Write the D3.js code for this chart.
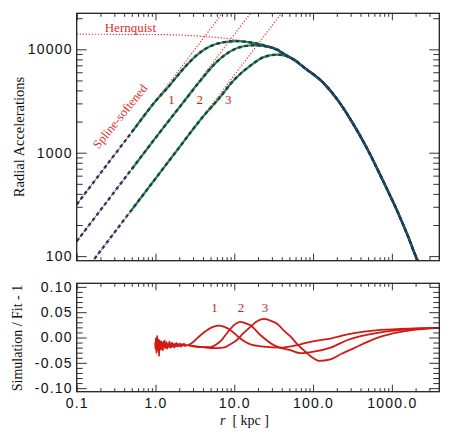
<!DOCTYPE html>
<html>
<head>
<meta charset="utf-8">
<script src="https://cdn.jsdelivr.net/npm/d3@7"></script>
<style>
body { margin: 0; background: #fff; }
svg { display: block; }
</style>
</head>
<body>
<script>
// ---- values: [r (kpc), radial acceleration] ----
var accel1 = [[0.1,316],[0.5,1580],[1,3150],[1.5,4450],[2.26,6500],[3.35,8800],[4.94,10700],[7.3,11700],
  [10.8,12000],[16,11650],[23.6,10950],[34,9950],[45,8800]];
var accel2 = [[0.1,139],[0.5,695],[1,1390],[2.38,3240],[3.69,4950],[6.03,7600],[8.9,9550],[13.1,10700],
  [18,10950],[23,10800],[35,9950],[45,8800]];
var accel3 = [[0.15,84],[0.5,281],[1,562],[2,1124],[4,2230],[6.3,3300],[9.8,5000],[16,6950],
  [23.6,8400],[35,8890],[45,8650],[52,8250]];
var accelTail = [[60,7750],[76,6710],[136,4710],[205,3240],[301,2075],[494,1069],[791,515],
  [1191,265],[1600,156],[2080,93.5],[2250,82]];
var hernquist = [[0.1,14000],[1,13900],[3,13550],[5,13200],[10,12450],[20,11300],[30,10300],[45,8950]];
var softLine1 = [[0.1,316],[8,25300]];
var softLine2 = [[0.1,139],[20,27800]];
var softLine3 = [[0.15,84],[50,28100]];
var simStart = 0.5;

// ---- residuals: [r, simulation/fit - 1] ----
var noise = [[0.99,-0.010],[1.00,-0.022],[1.01,-0.002],[1.02,-0.016],[1.03,-0.030],[1.04,-0.008],[1.05,0.003],
  [1.06,-0.020],[1.07,-0.012],[1.08,-0.026],[1.09,-0.004],[1.10,-0.018],[1.11,-0.036],[1.12,-0.014],[1.13,-0.006],
  [1.14,-0.022],[1.16,-0.010],[1.17,-0.024],[1.19,-0.008],[1.20,-0.019],[1.22,-0.011],[1.24,-0.025],[1.26,-0.009],
  [1.28,-0.017],[1.30,-0.006],[1.32,-0.021],[1.34,-0.012],[1.36,-0.019],[1.38,-0.009],[1.41,-0.022],[1.44,-0.013],
  [1.47,-0.018],[1.50,-0.008],[1.53,-0.020],[1.56,-0.012],[1.59,-0.019],[1.62,-0.010],[1.66,-0.018],[1.70,-0.013],
  [1.74,-0.020],[1.78,-0.012],[1.82,-0.017],[1.86,-0.011],[1.91,-0.018],[1.96,-0.013],[2.01,-0.017],[2.06,-0.012],
  [2.12,-0.018],[2.18,-0.013],[2.24,-0.016],[2.30,-0.012],[2.37,-0.017],[2.44,-0.014],[2.52,-0.016],[2.60,-0.015]];
var resid1 = [[2.6,-0.015],[2.9,-0.011],[3.7,0.004],[4.9,0.018],[6.3,0.0235],[7.5,0.021],[8.9,0.015],[11.9,-0.002],
  [16,-0.0135],[23.6,-0.018],[38,-0.020],[55,-0.017],[102,-0.007],[167,-0.002],[273,0.006],[724,0.0149],
  [1900,0.018],[4000,0.019]];
var resid2 = [[2.6,-0.015],[3.7,-0.019],[5,-0.019],[6,-0.013],[7,-0.004],[8.1,0.009],[10,0.025],[11.9,0.031],
  [13.5,0.029],[16,0.024],[21.4,0.005],[31.7,-0.015],[51.6,-0.025],[69,-0.031],[102,-0.028],[167,-0.020],
  [273,-0.005],[724,0.0103],[1906,0.0168],[4000,0.019]];
var resid3 = [[2.6,-0.015],[4,-0.019],[6,-0.021],[7.7,-0.019],[9,-0.013],[10.8,-0.005],[13,0.008],[16,0.021],
  [19,0.031],[23.6,0.0366],[28,0.034],[35,0.027],[43,0.013],[51.6,0.002],[62,-0.012],[76,-0.025],[95,-0.038],
  [118,-0.046],[167,-0.043],[230,-0.032],[331,-0.021],[500,-0.008],[724,0.0016],[1200,0.010],[1906,0.0149],
  [4000,0.019]];

// tick values
var xMajor = [0.1, 1, 10, 100, 1000];
var yTopMajor = [100, 1000, 10000];
var yBotMajor = [-0.10, -0.05, 0, 0.05, 0.10];

// annotation anchors [r, value, text]
var topNumbers = [[1.6,2960,"1"],[3.65,2960,"2"],[8.4,2960,"3"]];
var botNumbers = [[5.6,0.050,"1"],[12.2,0.050,"2"],[24.6,0.050,"3"]];

var width = 452, height = 436;
var left = 76.7, right = 439.3;

var svg = d3.select("body").append("svg")
    .attr("width", width)
    .attr("height", height);

var x = d3.scaleLog().domain([0.1, 4000]).range([left, right]);
var yTop = d3.scaleLog().domain([90.3, 22300]).range([260.7, 13.3]);
var yBot = d3.scaleLinear().domain([-0.107, 0.107]).range([391.7, 283.3]);

var red = "#e0302a", darkRed = "#d01a14", green = "#139a2c", navy = "#183c6a";
var sansFont = "'Liberation Sans', Arial, Helvetica, sans-serif";
var serifFont = "'Liberation Serif', 'Times New Roman', serif";

var defs = svg.append("defs");
defs.append("clipPath").attr("id", "clipTop").append("rect")
    .attr("x", left).attr("y", yTop.range()[1])
    .attr("width", right - left).attr("height", yTop.range()[0] - yTop.range()[1]);
defs.append("clipPath").attr("id", "clipBot").append("rect")
    .attr("x", left).attr("y", yBot.range()[1])
    .attr("width", right - left).attr("height", yBot.range()[0] - yBot.range()[1]);

// minor ticks for log axes
function logMinors(lo, hi) {
  var out = [];
  for (var e = Math.floor(Math.log10(lo)); e <= Math.ceil(Math.log10(hi)); e++) {
    for (var m = 2; m <= 9; m++) {
      var v = m * Math.pow(10, e);
      if (v > lo && v < hi) out.push(v);
    }
  }
  return out;
}
var xMinor = logMinors(0.1, 4000);
var yTopMinor = logMinors(90.3, 22300);
var yBotMinor = d3.range(-10, 11).filter(function(k) { return k % 5 !== 0; }).map(function(k) { return k / 100; });

function drawAxes(g, y, yMajor, yMinor, yFmt, showX) {
  var y0 = y.range()[0], y1 = y.range()[1];
  var fmtX = function(d) { return d.toFixed(1); };

  function put(axis, tf) {
    var a = g.append("g").attr("transform", tf).call(axis);
    a.select(".domain").remove();
    a.selectAll("line").attr("stroke", "#333").attr("stroke-width", 1);
    a.selectAll("text").attr("font-family", sansFont).attr("font-size", 14)
      .attr("letter-spacing", "1.2px").attr("fill", "#111");
    return a;
  }
  // x major / minor, bottom + top
  put(d3.axisBottom(x).tickValues(xMajor).tickSize(-7).tickPadding(6)
      .tickFormat(showX ? fmtX : function() { return ""; }), "translate(0," + y0 + ")");
  put(d3.axisBottom(x).tickValues(xMinor).tickSize(-3.5).tickFormat(""), "translate(0," + y0 + ")");
  put(d3.axisTop(x).tickValues(xMajor).tickSize(-7).tickFormat(""), "translate(0," + y1 + ")");
  put(d3.axisTop(x).tickValues(xMinor).tickSize(-3.5).tickFormat(""), "translate(0," + y1 + ")");
  // y major / minor, left + right
  put(d3.axisLeft(y).tickValues(yMajor).tickSize(-10).tickPadding(4).tickFormat(yFmt), "translate(" + left + ",0)");
  put(d3.axisLeft(y).tickValues(yMinor).tickSize(-6).tickFormat(""), "translate(" + left + ",0)");
  put(d3.axisRight(y).tickValues(yMajor).tickSize(-10).tickFormat(""), "translate(" + right + ",0)");
  put(d3.axisRight(y).tickValues(yMinor).tickSize(-6).tickFormat(""), "translate(" + right + ",0)");

  g.append("rect")
    .attr("x", left).attr("y", y1)
    .attr("width", right - left).attr("height", y0 - y1)
    .attr("fill", "none").attr("stroke", "#222").attr("stroke-width", 1.3);
}

/**===== top panel: radial accelerations =====**/
var topPanel = svg.append("g");
var plotTop = topPanel.append("g").attr("clip-path", "url(#clipTop)");

var lineTop = d3.line()
    .x(function(d) { return x(d[0]); })
    .y(function(d) { return yTop(d[1]); })
    .curve(d3.curveMonotoneX);
var straightTop = d3.line()
    .x(function(d) { return x(d[0]); })
    .y(function(d) { return yTop(d[1]); });

var curves = [accel1.concat(accelTail), accel2.concat(accelTail), accel3.concat(accelTail)];

// analytic guides (dotted red)
[softLine1, softLine2, softLine3].forEach(function(s) {
  plotTop.append("path").attr("d", straightTop(s))
    .attr("fill", "none").attr("stroke", red).attr("stroke-width", 1.2)
    .attr("stroke-dasharray", "1.2,1.8");
});
plotTop.append("path").attr("d", lineTop(hernquist.concat(accelTail)))
  .attr("fill", "none").attr("stroke", red).attr("stroke-width", 1.2)
  .attr("stroke-dasharray", "1.2,1.8");

// simulation (green solid, from r = 0.5)
curves.forEach(function(c) {
  plotTop.append("path")
    .attr("d", lineTop(c.filter(function(d) { return d[0] >= simStart; })))
    .attr("fill", "none").attr("stroke", green).attr("stroke-width", 2.2);
});
// fit (navy dashed) + analytic softened (red dotted)
curves.forEach(function(c) {
  plotTop.append("path").attr("d", lineTop(c))
    .attr("fill", "none").attr("stroke", navy).attr("stroke-width", 2.4)
    .attr("stroke-dasharray", "3.5,3");
  plotTop.append("path").attr("d", lineTop(c))
    .attr("fill", "none").attr("stroke", red).attr("stroke-width", 1)
    .attr("stroke-dasharray", "1,5.5").attr("stroke-dashoffset", -4.5);
});

topPanel.selectAll(".num").data(topNumbers).enter().append("text")
  .attr("x", function(d) { return x(d[0]); })
  .attr("y", function(d) { return yTop(d[1]); })
  .attr("text-anchor", "middle")
  .attr("font-family", serifFont).attr("font-size", 13).attr("fill", darkRed)
  .text(function(d) { return d[2]; });

topPanel.append("text")
  .attr("x", x(0.48)).attr("y", yTop(14700))
  .attr("text-anchor", "middle")
  .attr("font-family", serifFont).attr("font-size", 13).attr("fill", red)
  .text("Hernquist");

topPanel.append("text")
  .attr("transform", "translate(" + x(0.39) + "," + yTop(2120) + ") rotate(-51)")
  .attr("text-anchor", "middle")
  .attr("font-family", serifFont).attr("font-size", 12.5).attr("fill", red)
  .text("Spline-softened");

drawAxes(topPanel, yTop, yTopMajor, yTopMinor, function(d) { return String(d); }, false);

topPanel.append("text")
  .attr("transform", "translate(24,137) rotate(-90)")
  .attr("text-anchor", "middle")
  .attr("font-family", serifFont).attr("font-size", 14.5).attr("fill", "#111")
  .text("Radial Accelerations");

/**===== bottom panel: residuals =====**/
var botPanel = svg.append("g");
var plotBot = botPanel.append("g").attr("clip-path", "url(#clipBot)");

var lineBot = d3.line()
    .x(function(d) { return x(d[0]); })
    .y(function(d) { return yBot(d[1]); })
    .curve(d3.curveMonotoneX);
var jaggedBot = d3.line()
    .x(function(d) { return x(d[0]); })
    .y(function(d) { return yBot(d[1]); });

plotBot.append("path").attr("d", jaggedBot(noise))
  .attr("fill", "none").attr("stroke", darkRed).attr("stroke-width", 1.7)
  .attr("stroke-linejoin", "round");
[resid1, resid2, resid3].forEach(function(c) {
  plotBot.append("path").attr("d", lineBot(c))
    .attr("fill", "none").attr("stroke", darkRed).attr("stroke-width", 1.8);
});

botPanel.selectAll(".num").data(botNumbers).enter().append("text")
  .attr("x", function(d) { return x(d[0]); })
  .attr("y", function(d) { return yBot(d[1]); })
  .attr("text-anchor", "middle")
  .attr("font-family", serifFont).attr("font-size", 13).attr("fill", darkRed)
  .text(function(d) { return d[2]; });

drawAxes(botPanel, yBot, yBotMajor, yBotMinor, function(d) { return d.toFixed(2); }, true);

botPanel.append("text")
  .attr("transform", "translate(22,338) rotate(-90)")
  .attr("text-anchor", "middle")
  .attr("font-family", serifFont).attr("font-size", 14).attr("fill", "#111")
  .text("Simulation / Fit - 1");

var xt = botPanel.append("text")
  .attr("x", 220).attr("y", 425)
  .attr("font-family", serifFont).attr("font-size", 14).attr("fill", "#111");
xt.append("tspan").attr("font-style", "italic").text("r");
xt.append("tspan").attr("xml:space", "preserve").text("  [ kpc ]");
</script>
</body>
</html>
